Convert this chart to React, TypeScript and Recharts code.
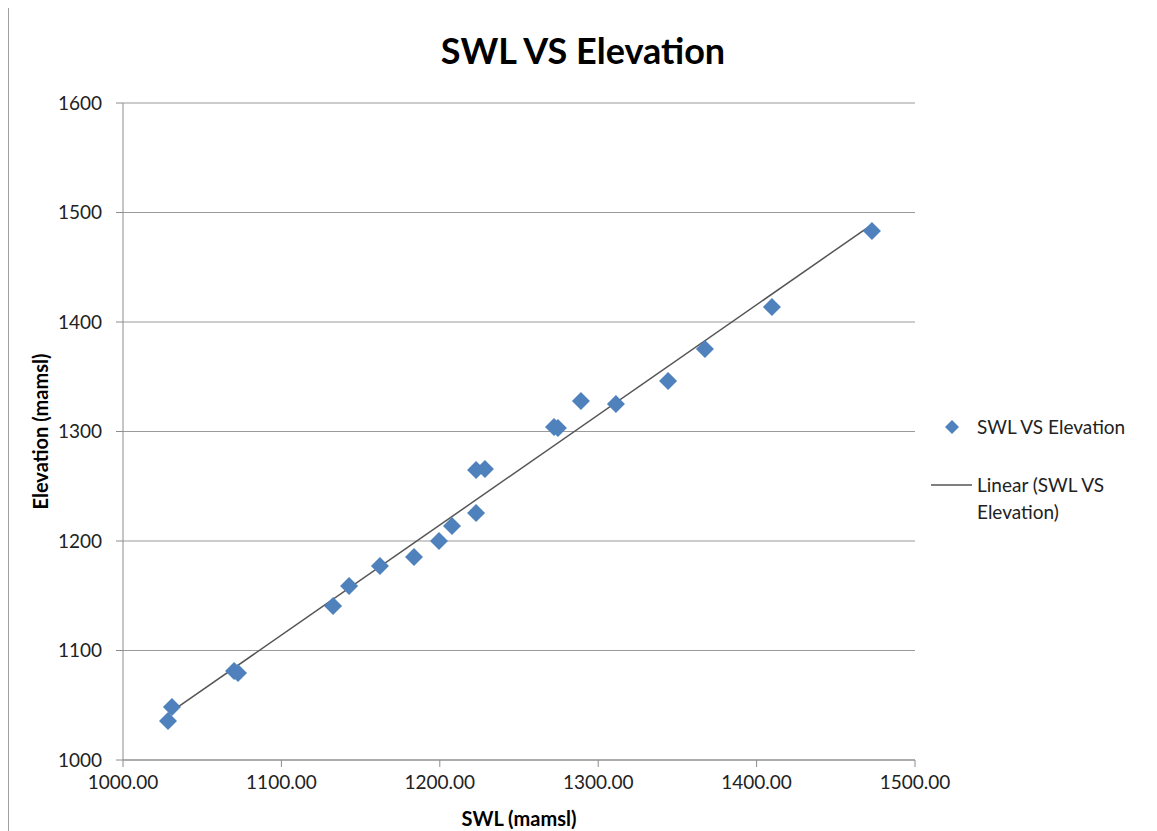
import { ScatterChart, Scatter, XAxis, YAxis, CartesianGrid, Label } from 'recharts'

const swl = [
    1028.4, 1030.9, 1070.1, 1072.6, 1132.6, 1142.7, 1162.2, 1183.7, 1199.5, 1207.7, 1222.9,
    1222.9, 1228.5, 1272.1, 1274.6, 1289.1, 1311.2, 1344.1, 1367.4, 1409.7, 1472.8,
]
const elevation = [
    1035.6, 1048.4, 1081.3, 1079.5, 1140.6, 1158.9, 1177.2, 1185.4, 1200.0, 1213.7, 1225.6,
    1264.8, 1265.8, 1304.1, 1303.2, 1327.8, 1325.1, 1346.1, 1375.3, 1413.7, 1483.1,
]
const xTicks = [1000, 1100, 1200, 1300, 1400, 1500]
const yTicks = [1000, 1100, 1200, 1300, 1400, 1500, 1600]

const points = swl.map((x, i) => ({ x, y: elevation[i] }))

// least squares trendline, like Excel's "Linear" trendline
const n = points.length
const meanX = swl.reduce((s, v) => s + v, 0) / n
const meanY = elevation.reduce((s, v) => s + v, 0) / n
let sxy = 0
let sxx = 0
points.forEach((p) => {
    sxy += (p.x - meanX) * (p.y - meanY)
    sxx += (p.x - meanX) * (p.x - meanX)
})
const slope = sxy / sxx
const intercept = meanY - slope * meanX
const minX = Math.min(...swl)
const maxX = Math.max(...swl)
const trend = [
    { x: minX, y: intercept + slope * minX },
    { x: maxX, y: intercept + slope * maxX },
]

const BLUE = '#4f81bd'
const FONT = 'Lato, Carlito, Calibri, sans-serif'

const Diamond = (props: any) => {
    const { cx, cy } = props
    const r = 9
    return (
        <polygon
            points={`${cx},${cy - r} ${cx + r},${cy} ${cx},${cy + r} ${cx - r},${cy}`}
            fill={BLUE}
        />
    )
}

export default function App() {
    return (
        <div
            style={{
                position: 'relative',
                width: 1148,
                height: 823,
                marginTop: -1,
                borderTop: '1px solid #a0a0a0',
                borderLeft: '1px solid #a0a0a0',
                fontFamily: FONT,
                background: '#fff',
            }}
        >
            <div
                style={{
                    position: 'absolute',
                    left: 374,
                    width: 400,
                    top: 20,
                    textAlign: 'center',
                    fontSize: 36,
                    fontWeight: 700,
                    color: '#000',
                }}
            >
                SWL VS Elevation
            </div>
            <ScatterChart
                width={1148}
                height={823}
                margin={{ top: 95, right: 242, bottom: 11, left: 54 }}
            >
                <CartesianGrid vertical={false} stroke="#9a9a9a" strokeWidth={1.2} />
                <XAxis
                    type="number"
                    dataKey="x"
                    domain={[1000, 1500]}
                    ticks={xTicks}
                    tickFormatter={(v: number) => v.toFixed(2)}
                    height={60}
                    tickSize={7}
                    tickMargin={9}
                    stroke="#8c8c8c"
                    tick={{ fill: '#222', fontSize: 19, fontFamily: FONT }}
                >
                    <Label
                        value="SWL (mamsl)"
                        position="insideBottom"
                        offset={-6}
                        style={{ fill: '#000', fontSize: 20, fontWeight: 700, fontFamily: FONT }}
                    />
                </XAxis>
                <YAxis
                    type="number"
                    dataKey="y"
                    domain={[1000, 1600]}
                    ticks={yTicks}
                    width={60}
                    tickSize={7}
                    tickMargin={14}
                    stroke="#8c8c8c"
                    tick={{ fill: '#222', fontSize: 19, fontFamily: FONT }}
                >
                    <Label
                        value="Elevation (mamsl)"
                        angle={-90}
                        position="insideLeft"
                        offset={-22}
                        style={{
                            fill: '#000',
                            fontSize: 20,
                            fontWeight: 700,
                            fontFamily: FONT,
                            textAnchor: 'middle',
                        }}
                    />
                </YAxis>
                <Scatter
                    data={trend}
                    line={{ stroke: '#555', strokeWidth: 1.5 }}
                    shape={() => null}
                    legendType="none"
                    isAnimationActive={false}
                />
                <Scatter
                    data={points}
                    shape={Diamond}
                    isAnimationActive={false}
                />
            </ScatterChart>
            <div
                style={{
                    position: 'absolute',
                    left: 920,
                    top: 405,
                    fontSize: 19,
                    color: '#222',
                    lineHeight: '27px',
                }}
            >
                <div style={{ display: 'flex', alignItems: 'center', height: 27 }}>
                    <svg width={48} height={20}>
                        <polygon points="23,3 30,10 23,17 16,10" fill={BLUE} />
                    </svg>
                    <span>SWL VS Elevation</span>
                </div>
                <div style={{ display: 'flex', marginTop: 31 }}>
                    <svg width={48} height={27}>
                        <line x1={2} y1={14} x2={43} y2={14} stroke="#555" strokeWidth={1.5} />
                    </svg>
                    <span>
                        Linear (SWL VS
                        <br />
                        Elevation)
                    </span>
                </div>
            </div>
        </div>
    )
}
